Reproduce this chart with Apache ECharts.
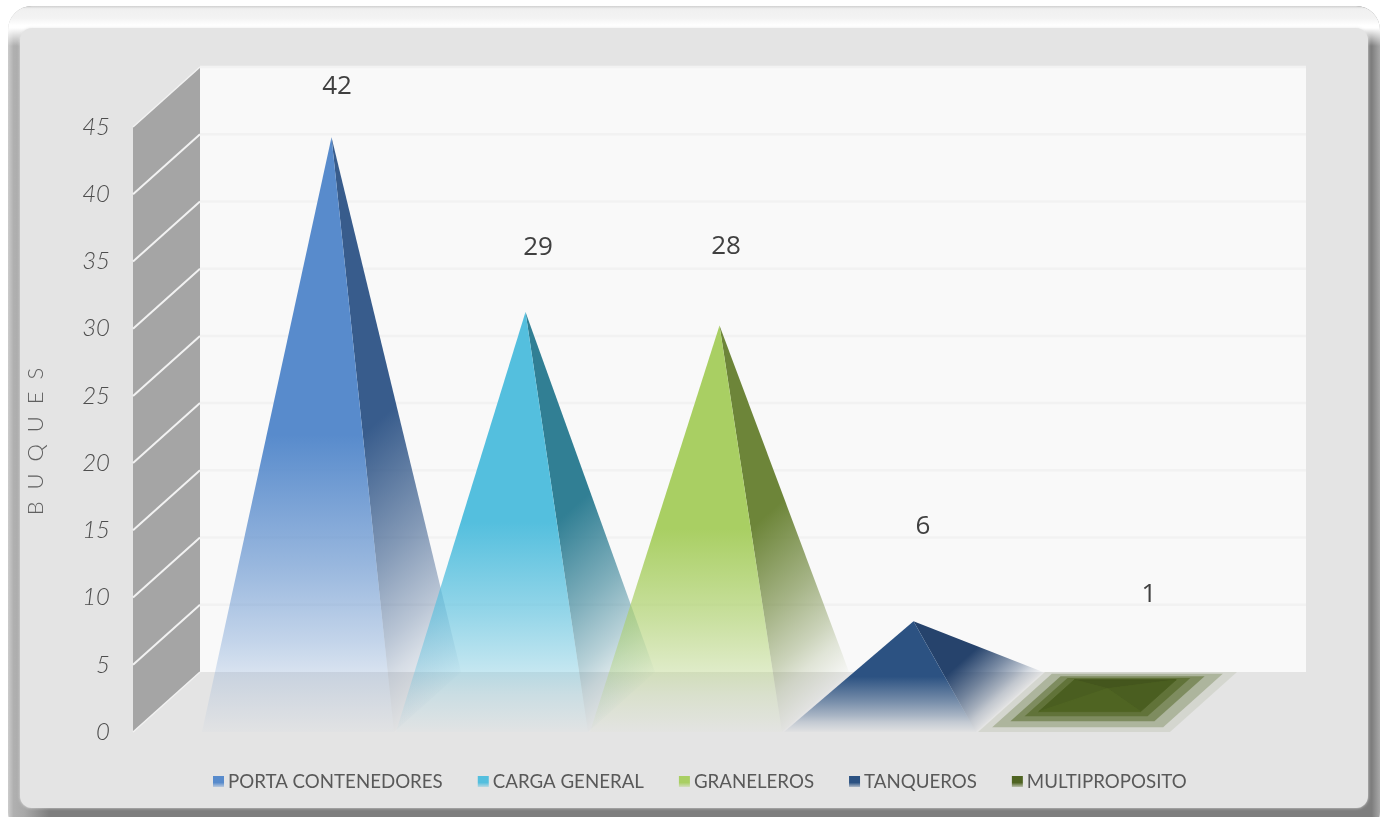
<!DOCTYPE html>
<html>
<head>
<meta charset="utf-8">
<style>html,body{margin:0;padding:0;background:#fff}#c{width:1382px;height:817px}</style>
<script src="https://cdn.jsdelivr.net/npm/echarts@6/dist/echarts.min.js"></script>
</head>
<body>
<div id="c"></div>
<script>
const categories = ['PORTA CONTENEDORES', 'CARGA GENERAL', 'GRANELEROS', 'TANQUEROS', 'MULTIPROPOSITO'];
const buques = [42, 29, 28, 6, 1];
const yTicks = [0, 5, 10, 15, 20, 25, 30, 35, 40, 45];
const frontColors = ['#588bcc', '#54bfde', '#a9cf63', '#2c5282', '#4f6422'];
const sideColors = ['#385c8c', '#317f94', '#6d8539', '#26436c', '#4a5e20'];
const backColors = ['#385c8c', '#317f94', '#6d8539', '#26436c', '#44561d'];
const labelShift = [5.5, 12.5, 6.5, 9.5, 41.5];
const labelLift = [50.5, 64.5, 78.5, 94.5, 93.5];

const DX = 67, DY = 60, WALL = 68;
const flatBandAt = [0, 0.11, 0.25, 0.36, 0.47];
const flatBandAlpha = [0.1, 0.29, 0.5, 0.62, 1];

function rgba(hex, a) {
  const n = parseInt(hex.slice(1), 16);
  return 'rgba(' + (n >> 16) + ',' + ((n >> 8) & 255) + ',' + (n & 255) + ',' + a + ')';
}
function smoothStops(c) {
  return [[0, 1], [0.5, 1], [0.72, 0.6], [0.85, 0.33], [0.91, 0.18], [1, 0.02]]
    .map(s => ({ offset: s[0], color: rgba(c, s[1]) }));
}
function face(apex, a, b, color) {
  const ux = b[0] - a[0], uy = b[1] - a[1];
  const t = ((apex[0] - a[0]) * ux + (apex[1] - a[1]) * uy) / (ux * ux + uy * uy);
  const foot = [a[0] + t * ux, a[1] + t * uy];
  return {
    type: 'polygon',
    shape: { points: [apex, a, b] },
    style: { fill: new echarts.graphic.LinearGradient(apex[0], apex[1], foot[0], foot[1], smoothStops(color), true) }
  };
}
function lerp(p, q, t) { return [p[0] + (q[0] - p[0]) * t, p[1] + (q[1] - p[1]) * t]; }
function tri(a, b, c, color) {
  return { type: 'polygon', shape: { points: [a, b, c] }, style: { fill: color, stroke: color, lineWidth: 0.8 } };
}
function pyramidRenderer(idx) {
  return function (params, api) {
    const x = api.value(0), v = api.value(1);
    const f = api.coord([x, 0]), top = api.coord([x, v]);
    const hw = api.size([1, 0])[0] * 0.495;
    const FL = [f[0] - hw, f[1]], FR = [f[0] + hw, f[1]];
    const BL = [FL[0] + DX, f[1] - DY], BR = [FR[0] + DX, f[1] - DY];
    const apex = [top[0] + DX / 2, top[1] - DY / 2];
    const flat = apex[1] > BL[1];
    const kids = [];
    if (flat) {
      const corners = [FL, FR, BR, BL];
      flatBandAt.forEach((t, k) => {
        const pts = corners.map(c => lerp(c, apex, t));
        if (k < flatBandAt.length - 1) {
          kids.push({ type: 'polygon', shape: { points: pts }, style: { fill: rgba(frontColors[idx], flatBandAlpha[k]) } });
        } else {
          kids.push(tri(apex, pts[3], pts[2], backColors[idx]));
          kids.push(tri(apex, pts[0], pts[3], sideColors[idx]));
          kids.push(tri(apex, pts[1], pts[2], sideColors[idx]));
          kids.push(tri(apex, pts[0], pts[1], frontColors[idx]));
        }
      });
    } else {
      kids.push(face(apex, FR, BR, sideColors[idx]));
      kids.push(face(apex, FL, FR, frontColors[idx]));
    }
    kids.push({
      type: 'text',
      style: {
        text: String(v), x: apex[0] + labelShift[idx], y: apex[1] - labelLift[idx],
        align: 'center', verticalAlign: 'middle',
        fontFamily: '"Open Sans"', fontSize: 26, fill: '#404040'
      }
    });
    return { type: 'group', children: kids };
  };
}
function wallRenderer(params, api) {
  const lo = api.coord([0, 0]);
  const hi = api.coord([0, yTicks[yTicks.length - 1]]);
  const last = api.coord([categories.length - 1, 0]);
  const band = api.size([1, 0])[0];
  const fx = lo[0] - band / 2 - WALL;
  const bx = fx + DX;
  const rx = last[0] + band / 2 + DX + WALL;
  const kids = [
    { type: 'rect', shape: { x: bx, y: hi[1] - DY, width: rx - bx, height: lo[1] - hi[1] }, style: { fill: '#f9f9f9' } },
    { type: 'polygon', shape: { points: [[fx, lo[1]], [bx, lo[1] - DY], [bx, hi[1] - DY], [fx, hi[1]]] }, style: { fill: '#a5a5a5' } }
  ];
  yTicks.forEach(t => {
    const y = api.coord([0, t])[1];
    if (t > 0) kids.push({ type: 'line', shape: { x1: bx, y1: y - DY, x2: rx, y2: y - DY }, style: { stroke: '#f2f2f2', lineWidth: 2.5 } });
    if (t < yTicks[yTicks.length - 1] && t > 0) kids.push({ type: 'line', shape: { x1: fx, y1: y, x2: bx, y2: y - DY }, style: { stroke: '#f2f2f2', lineWidth: 2 } });
  });
  kids.push({ type: 'line', shape: { x1: fx, y1: hi[1], x2: bx, y2: hi[1] - DY }, style: { stroke: '#f2f2f2', lineWidth: 1.5 } });
  kids.push({ type: 'line', shape: { x1: fx, y1: lo[1], x2: bx, y2: lo[1] - DY }, style: { stroke: '#f2f2f2', lineWidth: 1.5 } });
  return { type: 'group', children: kids };
}

const series = [{
  name: 'walls', type: 'custom', z: 1, silent: true, clip: false,
  data: [[categories[0], 0]], encode: { x: 0, y: 1 }, renderItem: wallRenderer
}];
categories.forEach((c, i) => series.push({
  name: c, type: 'custom', z: 2 + i, clip: false, silent: true,
  itemStyle: { color: frontColors[i] },
  data: [[c, buques[i]]], encode: { x: 0, y: 1 }, renderItem: pyramidRenderer(i)
}));

const chart = echarts.init(document.getElementById('c'), null, { renderer: 'canvas', width: 1382, height: 817 });
chart.setOption({
  animation: false,
  backgroundColor: '#ffffff',
  graphic: [
    { type: 'rect', z: -30, silent: true, shape: { x: 8, y: 6, width: 1372, height: 830, r: 24 },
      style: { fill: new echarts.graphic.LinearGradient(0, 0, 1, 0, [
        { offset: 0, color: '#cccccc' }, { offset: 0.004, color: '#b0b0b0' }, { offset: 0.012, color: '#a8a8a8' }, { offset: 0.03, color: '#7e7e7e' },
        { offset: 0.994, color: '#7e7e7e' }, { offset: 1, color: '#a8a8a8' }]) } },
    { type: 'rect', z: -29, silent: true, shape: { x: 8, y: 6, width: 1372, height: 40, r: [24, 24, 0, 0] },
      style: { fill: new echarts.graphic.LinearGradient(0, 0, 0, 1, [
        { offset: 0, color: '#d0d0d0' }, { offset: 0.07, color: '#f0f0f0' }, { offset: 0.3, color: '#f3f3f3' }, { offset: 0.48, color: '#ffffff' },
        { offset: 0.55, color: 'rgba(255,255,255,1)' }, { offset: 1, color: 'rgba(255,255,255,0)' }]) } },
    { type: 'rect', z: -28, silent: true, shape: { x: 20, y: 28, width: 1348, height: 780, r: 12 },
      style: { fill: '#e4e4e4', shadowBlur: 3, shadowColor: 'rgba(228,228,228,0.9)' } }
  ],
  grid: { left: 201, top: 127, width: 970, height: 605, containLabel: false },
  legend: {
    left: 208, top: 767, itemWidth: 11, itemHeight: 11, itemGap: 35,
    selectedMode: false,
    data: categories.map((c, i) => ({
      name: c, icon: 'rect',
      itemStyle: { color: new echarts.graphic.LinearGradient(0, 0, 0, 1, [
        { offset: 0, color: frontColors[i] }, { offset: 0.6, color: frontColors[i] }, { offset: 1, color: rgba(frontColors[i], 0.3) }]) }
    })),
    textStyle: { fontFamily: 'Lato', fontSize: 18.7, color: '#595959', padding: [0, 0, 0, -1] }
  },
  xAxis: { type: 'category', data: categories, show: false },
  yAxis: {
    type: 'value', min: 0, max: 45, interval: 5, offset: 68, z: 5,
    axisLine: { show: false }, axisTick: { show: false }, splitLine: { show: false },
    axisLabel: { margin: 23, fontFamily: 'Lato', fontStyle: 'italic', fontWeight: 300, fontSize: 24, color: '#4d4d4d' },
    name: 'B  U  Q  U  E  S', nameLocation: 'middle', nameRotate: 90, nameGap: 86,
    nameTextStyle: { fontFamily: 'Lato', fontSize: 22, fontWeight: 300, color: '#606060', padding: [0, 24, 0, 0] }
  },
  series: series
});
</script>
</body>
</html>
